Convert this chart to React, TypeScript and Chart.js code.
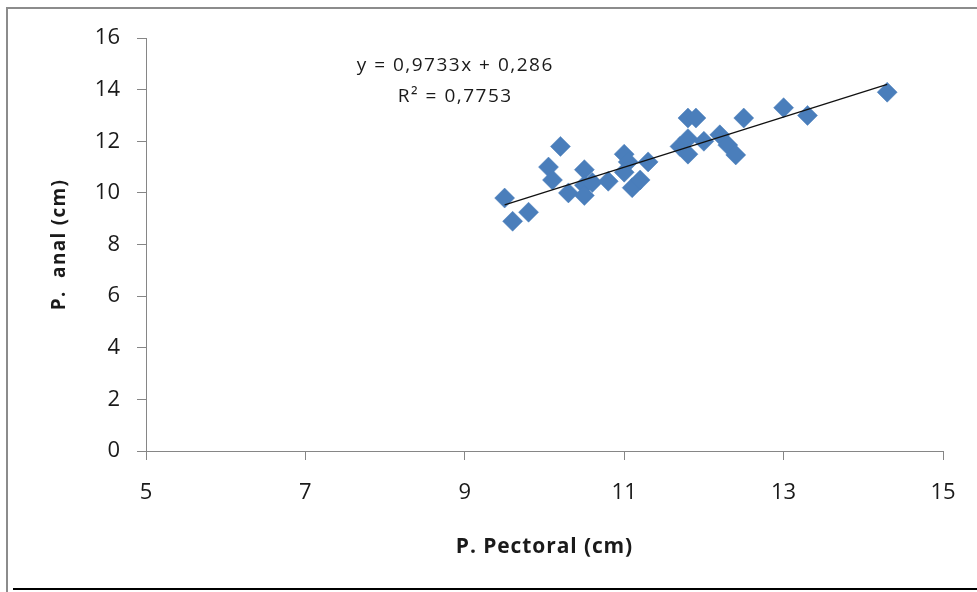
import React, { useEffect, useRef } from "react";
import { Chart, registerables } from "chart.js";

Chart.register(...registerables);

const pectoral = [9.5, 9.6, 9.8, 10.05, 10.1, 10.2, 10.3, 10.5, 10.5, 10.5, 10.6, 10.8, 11.0, 11.05, 11.0, 11.1, 11.2, 11.3, 11.7, 11.8, 11.8, 11.8, 11.9, 12.0, 12.2, 12.3, 12.4, 12.5, 13.0, 13.3, 14.3];
const anal = [9.8, 8.9, 9.25, 11.0, 10.5, 11.8, 10.0, 10.9, 10.3, 9.9, 10.4, 10.45, 11.5, 11.2, 10.8, 10.2, 10.5, 11.2, 11.8, 12.1, 11.5, 12.9, 12.9, 12.0, 12.25, 11.85, 11.47, 12.9, 13.3, 13.0, 13.9];

const slope = 0.9733;
const intercept = 0.286;
const rSquared = "0,7753";
const trendX = [9.5, 14.3];

const xTicks = [5, 7, 9, 11, 13, 15];
const yTicks = [0, 2, 4, 6, 8, 10, 12, 14, 16];

const xTitle = "P. Pectoral (cm)";
const yTitle = "P.  anal (cm)";

const FONT = "'Open Sans', Lato, sans-serif";
const TEXT = "#1a1a1a";

export default function App() {
  const ref = useRef<HTMLCanvasElement | null>(null);

  useEffect(() => {
    document.body.style.margin = "0";
    const canvas = ref.current;
    if (!canvas) return;

    const points = pectoral.map((x, i) => ({ x, y: anal[i] }));
    const trend = trendX.map((x) => ({ x, y: slope * x + intercept }));

    const textPlugin = {
      id: "texts",
      afterDraw(chart: any) {
        const { ctx, scales, chartArea } = chart;
        ctx.save();
        ctx.fillStyle = TEXT;
        ctx.textAlign = "center";
        ctx.textBaseline = "middle";

        // equation
        const cx = scales.x.getPixelForValue(8.88);
        ctx.font = `19px ${FONT}`;
        (ctx as any).letterSpacing = "1.5px";
        ctx.fillText(
          `y = ${String(slope).replace(".", ",")}x + ${String(intercept).replace(".", ",")}`,
          cx,
          scales.y.getPixelForValue(14.92)
        );
        ctx.fillText(`R² = ${rSquared}`, cx, scales.y.getPixelForValue(13.72));

        // x title
        ctx.font = `bold 21px ${FONT}`;
        (ctx as any).letterSpacing = "0.9px";
        ctx.fillText(xTitle, (chartArea.left + chartArea.right) / 2, 547);

        // y title
        ctx.font = `bold 19px ${FONT}`;
        (ctx as any).letterSpacing = "1.3px";
        ctx.translate(60, (chartArea.top + chartArea.bottom) / 2);
        ctx.rotate(-Math.PI / 2);
        ctx.fillText(yTitle, 0, 0);
        ctx.restore();
      },
    };

    const axisGrey = "#868686";
    const chart = new Chart(canvas, {
      type: "scatter",
      data: {
        datasets: [
          {
            type: "line",
            data: trend,
            borderColor: "#111",
            borderWidth: 1.3,
            pointRadius: 0,
            fill: false,
            order: 0,
          } as any,
          {
            data: points,
            pointStyle: "rectRot",
            pointRadius: 10,
            pointHoverRadius: 10,
            backgroundColor: "#4a7ebb",
            borderColor: "#4a7ebb",
            borderWidth: 0.5,
            order: 1,
          },
        ],
      },
      options: {
        animation: false,
        responsive: false,
        devicePixelRatio: 1,
        layout: { padding: { top: 38, right: 34, left: 0, bottom: 0 } },
        plugins: {
          legend: { display: false },
          tooltip: { enabled: false },
        },
        scales: {
          x: {
            type: "linear",
            min: 5,
            max: 15,
            afterBuildTicks: (s: any) => {
              s.ticks = xTicks.map((v) => ({ value: v }));
            },
            afterFit: (s: any) => {
              s.height = 141;
            },
            ticks: {
              font: { family: FONT, size: 22 },
              color: TEXT,
              padding: 20,
            },
            grid: {
              drawOnChartArea: false,
              drawTicks: true,
              tickLength: 9,
              color: axisGrey,
            },
            border: { color: axisGrey, width: 1 },
          },
          y: {
            type: "linear",
            min: 0,
            max: 16,
            afterBuildTicks: (s: any) => {
              s.ticks = yTicks.map((v) => ({ value: v }));
            },
            afterFit: (s: any) => {
              s.width = 146;
            },
            ticks: {
              font: { family: FONT, size: 22 },
              color: TEXT,
              padding: 17,
            },
            grid: {
              drawOnChartArea: false,
              drawTicks: true,
              tickLength: 9,
              color: axisGrey,
            },
            border: { color: axisGrey, width: 1 },
          },
        },
      },
      plugins: [textPlugin],
    });

    return () => chart.destroy();
  }, []);

  return (
    <div style={{ position: "fixed", left: 0, top: 0, width: 977, height: 592, background: "#fff", overflow: "hidden" }}>
      <canvas ref={ref} width={977} height={592} style={{ position: "absolute", left: 0, top: 0 }} />
      <div style={{ position: "absolute", left: 6, top: 7, width: 2, height: 585, background: "#8c8c8c" }} />
      <div style={{ position: "absolute", left: 6, top: 7, width: 971, height: 2, background: "#8c8c8c" }} />
      <div style={{ position: "absolute", left: 13, top: 588, width: 964, height: 2, background: "#000" }} />
    </div>
  );
}
